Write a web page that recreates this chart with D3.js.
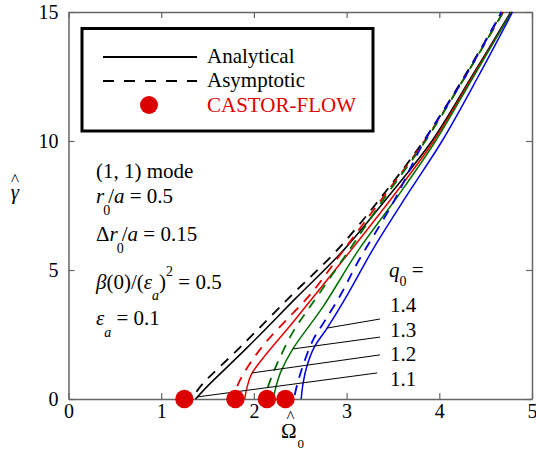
<!DOCTYPE html>
<html>
<head>
  <meta charset="utf-8">
  <script src="https://d3js.org/d3.v7.min.js"></script>
  <style>body { margin: 0; background: #fff; }</style>
</head>
<body>
  <div id="chart"></div>
</body>

<script>
  // tick values
  const xTicks = [0, 1, 2, 3, 4, 5];
  const yTicks = [0, 5, 10, 15];

  // q0 values of the four cases
  const q0Labels = ["1.1", "1.2", "1.3", "1.4"];
  const seriesColors = ["#000000", "#e00000", "#007000", "#0000e0"];

  // Analytical (solid) curves, one per q0
  const anaX11 = [1.37, 1.50, 1.93, 2.45, 2.97, 3.45, 3.92, 4.35, 4.77];
  const anaY11 = [0, 0.5, 2.0, 3.9, 5.78, 7.85, 10.0, 12.5, 15];
  const anaX12 = [1.90, 1.93, 1.98, 2.45, 3.05, 3.50, 3.94, 4.36, 4.78];
  const anaY12 = [0, 0.5, 1.0, 3.1, 5.78, 7.85, 10.0, 12.5, 15];
  const anaX13 = [2.21, 2.24, 2.29, 2.42, 2.75, 3.13, 3.55, 3.96, 4.37, 4.78];
  const anaY13 = [0, 0.5, 1.05, 1.94, 3.6, 5.78, 7.85, 10.0, 12.5, 15];
  const anaX14 = [2.51, 2.53, 2.57, 2.65, 2.79, 3.01, 3.30, 3.66, 4.03, 4.42, 4.79];
  const anaY14 = [0, 0.6, 1.25, 2.0, 2.75, 4.05, 5.9, 7.95, 10.0, 12.5, 15];

  // Asymptotic (dashed) curves
  const asyX11 = [1.38, 1.45, 1.85, 2.40, 2.90, 3.38, 3.83, 4.27, 4.68];
  const asyY11 = [0.28, 0.6, 2.0, 4.0, 5.78, 7.85, 10.0, 12.5, 15];
  const asyX12 = [1.82, 1.86, 1.99, 2.16, 2.40, 2.62, 2.97, 3.40, 3.84, 4.28, 4.69];
  const asyY12 = [0.5, 0.8, 1.55, 2.33, 3.25, 4.1, 5.78, 7.85, 10.0, 12.5, 15];
  const asyX13 = [2.15, 2.19, 2.28, 2.43, 2.62, 3.03, 3.42, 3.85, 4.28, 4.69];
  const asyY13 = [0.45, 0.85, 1.6, 2.65, 3.65, 5.78, 7.85, 10.0, 12.5, 15];
  const asyX14 = [2.44, 2.47, 2.53, 2.64, 2.76, 2.93, 3.12, 3.50, 3.84, 4.28, 4.67];
  const asyY14 = [0.15, 0.6, 1.3, 2.3, 3.0, 4.0, 5.3, 7.6, 10.0, 12.5, 15];

  // CASTOR-FLOW marginal points (gamma = 0)
  const castorX = [1.25, 1.80, 2.14, 2.34];
  const castorY = [0, 0, 0, 0];

  // leader lines from q0 labels to the analytical curves
  const leaderX0 = [3.33, 3.36, 3.36, 3.36];
  const leaderY0 = [1.01, 1.71, 2.40, 3.10];
  const leaderX1 = [1.39, 1.98, 2.42, 2.79];
  const leaderY1 = [0.08, 1.01, 1.94, 2.75];

  const anaX = [anaX11, anaX12, anaX13, anaX14];
  const anaY = [anaY11, anaY12, anaY13, anaY14];
  const asyX = [asyX11, asyX12, asyX13, asyX14];
  const asyY = [asyY11, asyY12, asyY13, asyY14];

  const FONT = '"Tinos"';

  const margin = {top: 12, right: 4, bottom: 52, left: 68.5},
      width = 536 - margin.left - margin.right,
      height = 451 - margin.top - margin.bottom;

  const page = d3.select("#chart")
    .append("svg")
      .attr("width", 536)
      .attr("height", 451);
  const svg = page.append("g")
      .attr("transform", `translate(${margin.left},${margin.top})`);

  const x = d3.scaleLinear().domain([0, 5]).range([0, width]);
  const y = d3.scaleLinear().domain([0, 15]).range([height, 0]);

  // axes, ticks pointing inward on all four sides
  const axisColor = "#666";
  function styleAxis(g) {
    g.attr("font-family", "Tinos").attr("font-size", 20);
    g.select(".domain").attr("stroke", axisColor).attr("stroke-width", 1.5);
    g.selectAll(".tick line").attr("stroke", axisColor).attr("stroke-width", 1.2);
    g.selectAll(".tick text").attr("fill", "#000")
      .style("font-family", FONT).style("font-size", "20px");
  }

  svg.append("g")
    .attr("transform", `translate(0,${height})`)
    .call(d3.axisBottom(x).tickValues(xTicks).tickSize(-6).tickSizeOuter(0).tickPadding(5).tickFormat(d3.format("d")))
    .call(styleAxis);
  svg.append("g")
    .call(d3.axisLeft(y).tickValues(yTicks).tickSize(-6).tickSizeOuter(0).tickPadding(10).tickFormat(d3.format("d")))
    .call(styleAxis);
  svg.append("g")
    .call(d3.axisTop(x).tickValues(xTicks).tickSize(-6).tickSizeOuter(0).tickFormat(""))
    .call(styleAxis);
  svg.append("g")
    .attr("transform", `translate(${width},0)`)
    .call(d3.axisRight(y).tickValues(yTicks).tickSize(-6).tickSizeOuter(0).tickFormat(""))
    .call(styleAxis);

  const line = d3.line()
    .x(d => x(d[0]))
    .y(d => y(d[1]))
    .curve(d3.curveCatmullRom.alpha(0.5));

  const curves = svg.append("g");
  for (let i = 0; i < 4; i++) {
    curves.append("path")
      .datum(d3.zip(anaX[i], anaY[i]))
      .attr("fill", "none")
      .attr("stroke", seriesColors[i])
      .attr("stroke-width", 1.5)
      .attr("d", line);
  }
  for (let i = 0; i < 4; i++) {
    curves.append("path")
      .datum(d3.zip(asyX[i], asyY[i]))
      .attr("fill", "none")
      .attr("stroke", seriesColors[i])
      .attr("stroke-width", 1.8)
      .attr("stroke-dasharray", "10,8")
      .attr("d", line);
  }

  // leader lines
  svg.selectAll(".leader")
    .data(d3.range(4))
    .enter()
    .append("line")
      .attr("class", "leader")
      .attr("x1", i => x(leaderX0[i]))
      .attr("y1", i => y(leaderY0[i]))
      .attr("x2", i => x(leaderX1[i]))
      .attr("y2", i => y(leaderY1[i]))
      .attr("stroke", "#000")
      .attr("stroke-width", 1);

  // CASTOR-FLOW points
  svg.selectAll(".dot")
    .data(d3.zip(castorX, castorY))
    .enter()
    .append("circle")
      .attr("class", "dot")
      .attr("cx", d => x(d[0]))
      .attr("cy", d => y(d[1]))
      .attr("r", 9.2)
      .attr("fill", "#dd0000");

  // small helpers so every text gets the serif face
  function txt(parent, px, py, size) {
    return parent.append("text").attr("x", px).attr("y", py)
      .attr("font-family", "Tinos")
      .style("font-family", FONT).style("font-size", size + "px");
  }
  function span(t, s, opts) {
    const sp = t.append("tspan").text(s);
    if (!opts) return sp;
    if (opts.dx) sp.attr("dx", opts.dx);
    if (opts.dy) sp.attr("dy", opts.dy);
    if (opts.size) sp.style("font-size", opts.size + "px");
    if (opts.it) sp.style("font-style", "italic");
    return sp;
  }

  // legend
  page.append("rect")
    .attr("x", 82).attr("y", 28.5).attr("width", 291).attr("height", 102.5)
    .attr("fill", "#fff").attr("stroke", "#000").attr("stroke-width", 3);
  page.append("line")
    .attr("x1", 103).attr("x2", 197).attr("y1", 57).attr("y2", 57)
    .attr("stroke", "#000").attr("stroke-width", 1.8);
  page.append("line")
    .attr("x1", 103).attr("x2", 197).attr("y1", 81).attr("y2", 81)
    .attr("stroke", "#000").attr("stroke-width", 1.8).attr("stroke-dasharray", "11,10");
  page.append("circle")
    .attr("cx", 149).attr("cy", 105).attr("r", 9).attr("fill", "#dd0000");
  const legendText = [["Analytical", 63, "#000"], ["Asymptotic", 87, "#000"], ["CASTOR-FLOW", 112, "#dd0000"]];
  legendText.forEach(l => {
    txt(page, 207, l[1], 21).attr("fill", l[2]).text(l[0]);
  });

  // parameter annotations
  txt(page, 96, 178, 21).text("(1, 1) mode");

  let t = txt(page, 96, 203, 21);
  span(t, "r", {it: true});
  span(t, "0", {dy: 12, dx: -1, size: 14});
  span(t, "/", {dy: -12, dx: -2});
  span(t, "a", {it: true});
  span(t, " = 0.5");

  t = txt(page, 96, 241, 21);
  span(t, "Δ");
  span(t, "r", {it: true});
  span(t, "0", {dy: 12, dx: -1, size: 14});
  span(t, "/", {dy: -12, dx: -2});
  span(t, "a", {it: true});
  span(t, " = 0.15");

  t = txt(page, 96, 289, 21);
  span(t, "β", {it: true});
  span(t, "(0)/(");
  span(t, "ε", {it: true});
  span(t, "a", {dy: 11, size: 14, it: true});
  span(t, ")", {dy: -11});
  span(t, "2", {dy: -13, size: 14});
  span(t, " = 0.5", {dy: 13});

  t = txt(page, 96, 325, 21);
  span(t, "ε", {it: true});
  span(t, "a", {dy: 12, size: 14, it: true});
  span(t, " = 0.1", {dy: -12});

  // q0 labels
  t = txt(page, 389, 277, 21);
  span(t, "q", {it: true});
  span(t, "0", {dy: 9, size: 14});
  span(t, " =", {dy: -9});
  const q0Base = [386, 361, 337, 312];
  q0Labels.forEach((q, i) => {
    txt(page, 390, q0Base[i], 21).text(q);
  });

  // axis titles
  txt(page, 15, 185, 17).attr("text-anchor", "middle").text("^");
  txt(page, 15, 199, 21).attr("text-anchor", "middle").style("font-style", "italic").text("γ");
  txt(page, 290.5, 422, 17).attr("text-anchor", "middle").text("^");
  t = txt(page, 281, 438, 21);
  span(t, "Ω");
  span(t, "0", {dy: 10, dx: 1, size: 13});
</script>

</html>
